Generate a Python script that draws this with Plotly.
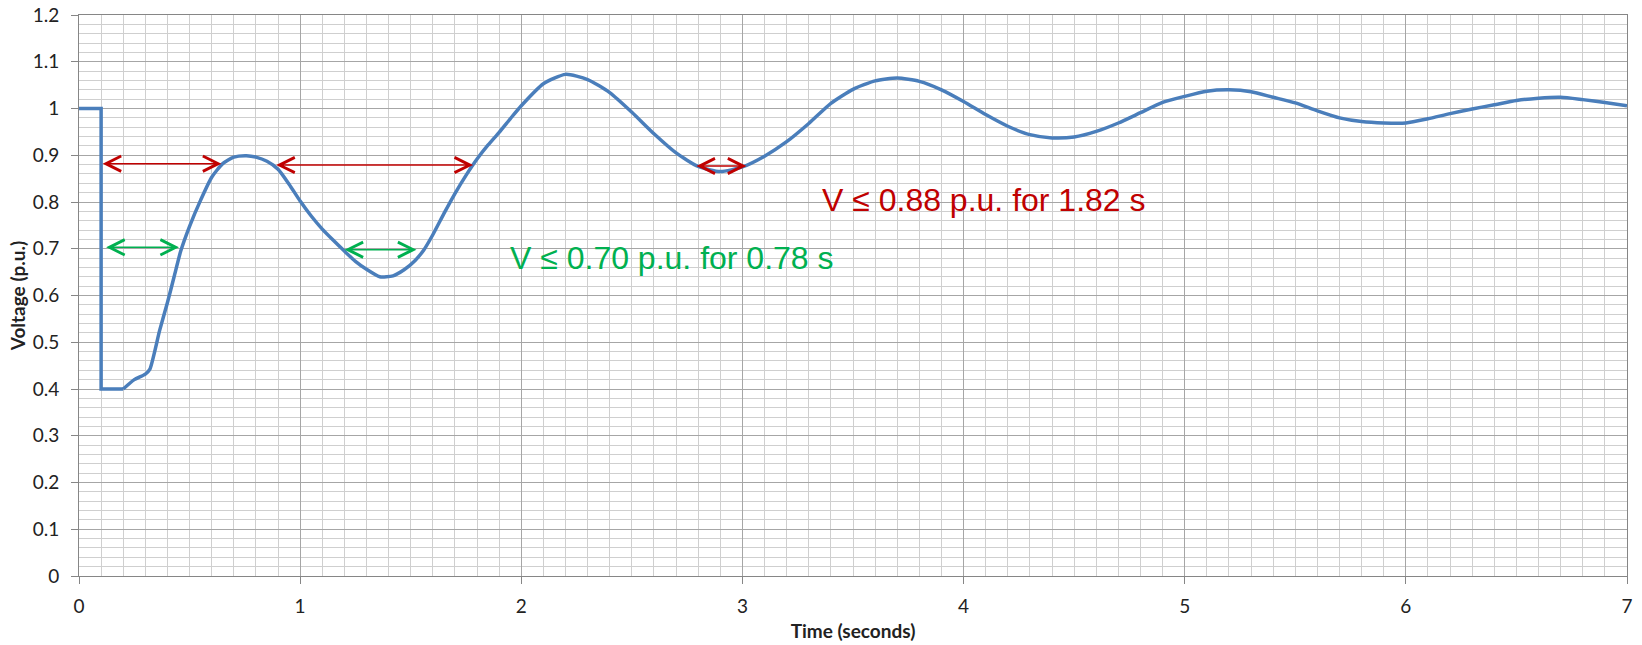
import plotly.graph_objects as go

# ---- data ----
time_s = [0, 0.1, 0.1, 0.2, 0.25, 0.3, 0.32, 0.365, 0.4, 0.43, 0.46, 0.5, 0.55, 0.6, 0.65, 0.7,
          0.757, 0.8, 0.85, 0.9, 0.95, 1.0, 1.05, 1.1, 1.15, 1.2, 1.25, 1.3, 1.36, 1.42, 1.47,
          1.52, 1.56, 1.6, 1.65, 1.7, 1.75, 1.8, 1.85, 1.9, 1.95, 2.0, 2.1, 2.2, 2.3, 2.4, 2.5,
          2.6, 2.7, 2.8, 2.9, 3.0, 3.1, 3.2, 3.3, 3.4, 3.5, 3.6, 3.7, 3.8, 3.9, 4.0, 4.1, 4.2,
          4.3, 4.4, 4.5, 4.6, 4.7, 4.8, 4.9, 5.0, 5.1, 5.2, 5.3, 5.4, 5.5, 5.6, 5.7, 5.8, 5.9,
          6.0, 6.1, 6.2, 6.3, 6.4, 6.5, 6.6, 6.7, 6.8, 6.9, 7.0]
voltage_pu = [1.0, 1.0, 0.4, 0.4, 0.42, 0.432, 0.442, 0.526, 0.585, 0.640, 0.695, 0.748, 0.804,
              0.853, 0.882, 0.896, 0.899, 0.896, 0.887, 0.870, 0.838, 0.802, 0.770, 0.742, 0.718,
              0.695, 0.673, 0.656, 0.640, 0.642, 0.655, 0.675, 0.698, 0.73, 0.775, 0.818, 0.857,
              0.892, 0.922, 0.949, 0.978, 1.006, 1.053, 1.073, 1.062, 1.034, 0.992, 0.946, 0.905,
              0.876, 0.865, 0.875, 0.898, 0.929, 0.968, 1.011, 1.041, 1.059, 1.065, 1.058, 1.040,
              1.015, 0.987, 0.962, 0.944, 0.937, 0.939, 0.951, 0.969, 0.991, 1.013, 1.026, 1.037,
              1.040, 1.036, 1.024, 1.012, 0.995, 0.980, 0.972, 0.969, 0.969, 0.978, 0.989, 0.999,
              1.008, 1.017, 1.022, 1.024, 1.019, 1.013, 1.006]
SPLIT = 3  # fault step (first 4 samples) drawn straight, the recovery drawn smooth

# duration arrows: (t_start, t_end, level)
red_arrows = [(0.1, 0.644, 0.882), (0.885, 1.782, 0.879), (2.785, 3.018, 0.877)]
green_arrows = [(0.116, 0.452, 0.703), (1.194, 1.526, 0.698)]
red_label = "V ≤ 0.88 p.u. for 1.82 s"
green_label = "V ≤ 0.70 p.u. for 0.78 s"
red_label_pos = (3.35, 0.805)
green_label_pos = (1.94, 0.681)

x_ticks = [0, 1, 2, 3, 4, 5, 6, 7]
y_ticks = [0, 0.1, 0.2, 0.3, 0.4, 0.5, 0.6, 0.7, 0.8, 0.9, 1, 1.1, 1.2]

RED = "#C00000"
GREEN = "#00B050"
BLUE = "#4A7EBB"
FONT = "Lato, Liberation Sans, Arial, sans-serif"

fig = go.Figure()
fig.add_trace(go.Scatter(x=time_s[:SPLIT + 1], y=voltage_pu[:SPLIT + 1], mode="lines",
                         line=dict(color=BLUE, width=3.5), showlegend=False, hoverinfo="skip"))
fig.add_trace(go.Scatter(x=time_s[SPLIT:], y=voltage_pu[SPLIT:], mode="lines",
                         line=dict(color=BLUE, width=3.5, shape="spline", smoothing=0.6),
                         showlegend=False, hoverinfo="skip"))

annotations = []
for (t0, t1, lvl), col in [(a, RED) for a in red_arrows] + [(a, GREEN) for a in green_arrows]:
    annotations.append(dict(x=t1, y=lvl, ax=t0, ay=lvl, xref="x", yref="y", axref="x", ayref="y",
                            text="", showarrow=True, arrowhead=5, startarrowhead=5,
                            arrowside="end+start", arrowsize=2.0, startarrowsize=2.0,
                            arrowwidth=1.5, arrowcolor=col, standoff=0, startstandoff=0))
annotations.append(dict(x=red_label_pos[0], y=red_label_pos[1], xref="x", yref="y",
                        text=red_label, showarrow=False, xanchor="left", yanchor="middle",
                        font=dict(family="Liberation Sans, Arial, sans-serif", size=32, color=RED)))
annotations.append(dict(x=green_label_pos[0], y=green_label_pos[1], xref="x", yref="y",
                        text=green_label, showarrow=False, xanchor="left", yanchor="middle",
                        font=dict(family="Liberation Sans, Arial, sans-serif", size=32, color=GREEN)))

axis_common = dict(showline=True, linecolor="#868686", linewidth=1, mirror=True,
                   ticks="outside", ticklen=7, tickcolor="#868686", zeroline=False,
                   gridcolor="#A6A6A6", gridwidth=1, automargin=False,
                   tickfont=dict(family=FONT, size=19, color="#222222"))

fig.update_layout(
    width=1642, height=645,
    paper_bgcolor="white", plot_bgcolor="white",
    margin=dict(l=79, r=15, t=15, b=69),
    annotations=annotations,
    xaxis=dict(range=[0, 7], tickvals=x_ticks, **axis_common, ticklabelstandoff=6,
               minor=dict(dtick=0.1, showgrid=True, gridcolor="#CFCFCF", gridwidth=1, ticks=""),
               title=dict(text="<b>Time (seconds)</b>", font=dict(family=FONT, size=19, color="#222222"),
                          standoff=8)),
    yaxis=dict(range=[0, 1.2], tickvals=y_ticks, **axis_common, ticklabelstandoff=8,
               minor=dict(dtick=0.02, showgrid=True, gridcolor="#CFCFCF", gridwidth=1, ticks=""),
               title=dict(text="<b>Voltage (p.u.)</b>", font=dict(family=FONT, size=19, color="#222222"),
                          standoff=2)),
)

# remove the default 8 px page margin so the figure fills the window exactly
fig.write_html("out.html", config={"displayModeBar": False},
               post_script="document.body.style.margin='0px';")
